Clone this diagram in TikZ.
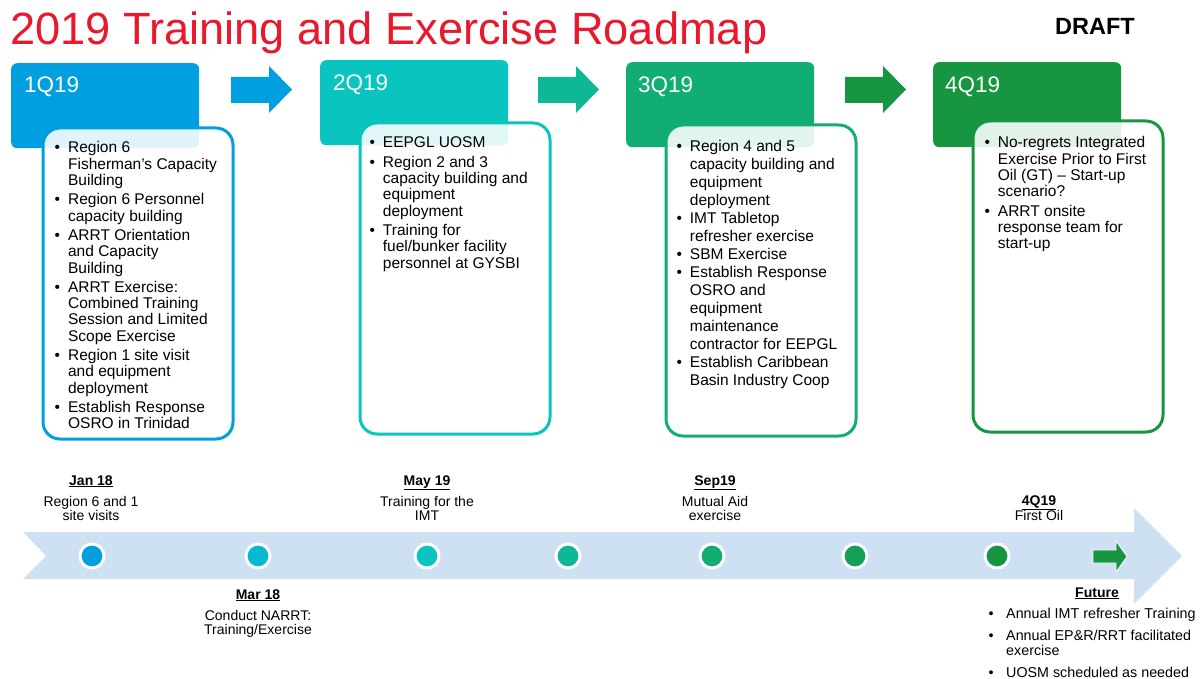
\documentclass[tikz,border=0pt]{standalone}
\usepackage{fontspec}
\setmainfont{Liberation Sans}
\usetikzlibrary{positioning}
\definecolor{roadred}{HTML}{E8192C}
\definecolor{q1}{HTML}{009FDF}
\definecolor{q12}{HTML}{04BAD2}
\definecolor{q2}{HTML}{0AC4BF}
\definecolor{q23}{HTML}{0EB896}
\definecolor{q3}{HTML}{12AD73}
\definecolor{q34}{HTML}{15A05A}
\definecolor{q4}{HTML}{179540}
\definecolor{band}{HTML}{CDE1F2}
\tikzstyle{qhead} = [rectangle, rounded corners=6pt, minimum width=188pt, minimum height=85pt, anchor=north west, inner sep=0pt]
\tikzstyle{qlabel} = [text=white, font={\fontsize{22.5}{27}\selectfont}, anchor=base west, inner sep=0pt]
\tikzstyle{qbox} = [rectangle, rounded corners=17pt, line width=3pt, fill=white, fill opacity=0.88, minimum width=190pt, minimum height=311pt, anchor=north west]
\tikzstyle{bullets} = [anchor=base west, inner sep=0pt, font={\fontsize{15.5}{16.3}\selectfont}]
\tikzstyle{milestone} = [circle, draw=white, line width=3pt, minimum size=24pt, inner sep=0pt]
\tikzstyle{datelbl} = [anchor=base, inner sep=0pt, font={\fontsize{14}{14}\selectfont}]

\begin{document}
\begin{tikzpicture}[x=1pt,y=-1pt]
  \useasboundingbox (0,0) rectangle (1204,679);
  \node[anchor=base west, text=roadred, inner sep=0pt, font={\fontsize{45.2}{54}\selectfont}] (title) at (10,45) {2019 Training and Exercise Roadmap};
  \node[anchor=base west, inner sep=0pt, font={\bfseries\fontsize{23.5}{28}\selectfont}] (draft) at (1055,35) {DRAFT};
  % quarter headers
  \node[qhead,fill=q1](h1) at (11,63){};
  \node[qhead,fill=q2](h2) at (320,60){};
  \node[qhead,fill=q3](h3) at (626,62){};
  \node[qhead,fill=q4](h4) at (933,62){};
  \node[qlabel](l1) at ([shift={(13,30)}]h1.north west){1Q19};
  \node[qlabel](l2) at ([shift={(13,31)}]h2.north west){2Q19};
  \node[qlabel](l3) at ([shift={(12,31)}]h3.north west){3Q19};
  \node[qlabel](l4) at ([shift={(12,31)}]h4.north west){4Q19};
  \foreach \x/\c in {231/q1,538/q23,845/q4}
    \fill[\c] (\x,77) -- ++(38,0) -- ++(0,-11) -- ++(23,23.5) -- ++(-23,23.5) -- ++(0,-10) -- ++(-38,0) -- cycle;
  % content boxes
  \node[qbox,draw=q1](b1) at (41.5,126.5){};
  \node[qbox,draw=q2](b2) at (358.5,121.5){};
  \node[qbox,draw=q3](b3) at (664.5,123.5){};
  \node[qbox,draw=q4](b4) at (971.5,119.5){};
  \node[bullets](t1) at (54.5,153){\begin{tabular}[t]{@{}l@{\hspace{8pt}}l@{}}
    \textbullet & Region 6\\ & Fisherman’s Capacity\\ & Building\\[3pt]
    \textbullet & Region 6 Personnel\\ & capacity building\\[3pt]
    \textbullet & ARRT Orientation\\ & and Capacity\\ & Building\\[3pt]
    \textbullet & ARRT Exercise:\\ & Combined Training\\ & Session and Limited\\ & Scope Exercise\\[3pt]
    \textbullet & Region 1 site visit\\ & and equipment\\ & deployment\\[3pt]
    \textbullet & Establish Response\\ & OSRO in Trinidad
  \end{tabular}};
  \node[bullets](t2) at (369.3,148){\begin{tabular}[t]{@{}l@{\hspace{8pt}}l@{}}
    \textbullet & EEPGL UOSM\\[3pt]
    \textbullet & Region 2 and 3\\ & capacity building and\\ & equipment\\ & deployment\\[3pt]
    \textbullet & Training for\\ & fuel/bunker facility\\ & personnel at GYSBI
  \end{tabular}};
  \node[bullets,font={\fontsize{15.5}{18}\selectfont}](t3) at (676.3,152){\begin{tabular}[t]{@{}l@{\hspace{8pt}}l@{}}
    \textbullet & Region 4 and 5\\ & capacity building and\\ & equipment\\ & deployment\\
    \textbullet & IMT Tabletop\\ & refresher exercise\\
    \textbullet & SBM Exercise\\
    \textbullet & Establish Response\\ & OSRO and\\ & equipment\\ & maintenance\\ & contractor for EEPGL\\
    \textbullet & Establish Caribbean\\ & Basin Industry Coop
  \end{tabular}};
  \node[bullets](t4) at (984.3,148){\begin{tabular}[t]{@{}l@{\hspace{8pt}}l@{}}
    \textbullet & No-regrets Integrated\\ & Exercise Prior to First\\ & Oil (GT) – Start-up\\ & scenario?\\[3pt]
    \textbullet & ARRT onsite\\ & response team for\\ & start-up
  \end{tabular}};
  % timeline
  \fill[band] (23,532) -- (1134,532) -- (1134,508) -- (1182,556) -- (1134,604) -- (1134,579) -- (23,579) -- (46,556) -- cycle;
  \foreach \x/\c [count=\i] in {92/q1,258/q12,427/q2,568/q23,712/q3,855/q34,997/q4}
    \node[milestone,fill=\c](m\i) at (\x,556){};
  \fill[q4,draw=white,line width=0.8pt] (1093,550) -- (1116,550) -- (1116,541) -- (1127,556.5) -- (1116,572) -- (1116,563) -- (1093,563) -- cycle;
  \node[datelbl](jan) at (91,485){\begin{tabular}[t]{@{}c@{}}\textbf{\underline{Jan 18}}\\[7pt]Region 6 and 1\\site visits\end{tabular}};
  \node[datelbl](mar) at (258,599){\begin{tabular}[t]{@{}c@{}}\textbf{\underline{Mar 18}}\\[7pt]Conduct NARRT:\\Training/Exercise\end{tabular}};
  \node[datelbl](may) at (427,485){\begin{tabular}[t]{@{}c@{}}\textbf{\underline{May 19}}\\[7pt]Training for the\\IMT\end{tabular}};
  \node[datelbl](sep) at (715,485){\begin{tabular}[t]{@{}c@{}}\textbf{\underline{Sep19}}\\[7pt]Mutual Aid\\exercise\end{tabular}};
  \node[datelbl](oil) at (1039,505){\begin{tabular}[t]{@{}c@{}}\textbf{\underline{4Q19}}\\[1pt]First Oil\end{tabular}};
  \node[datelbl](future) at (1097,597){\textbf{\underline{Future}}};
  \node[bullets,font={\fontsize{14.3}{15}\selectfont}](flist) at (988.5,618){\begin{tabular}[t]{@{}l@{\hspace{12.5pt}}l@{}}
    \textbullet & Annual IMT refresher Training\\[7pt]
    \textbullet & Annual EP\&R/RRT facilitated\\ & exercise\\[7pt]
    \textbullet & UOSM scheduled as needed
  \end{tabular}};
\end{tikzpicture}
\end{document}
